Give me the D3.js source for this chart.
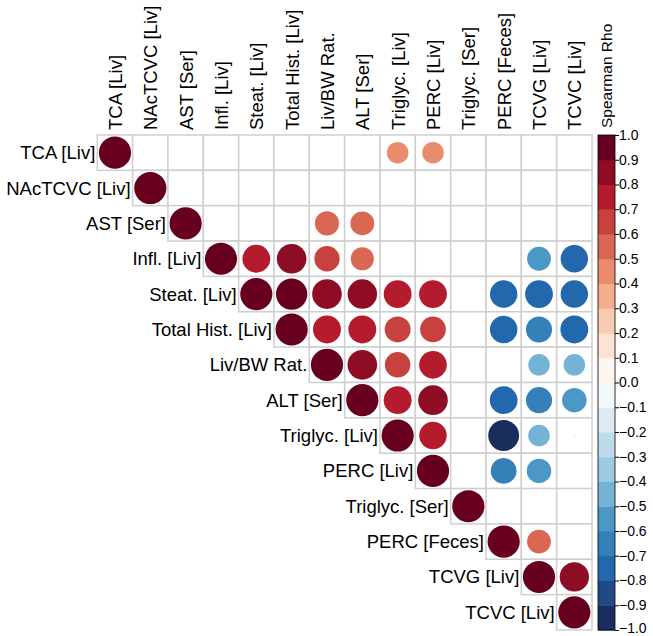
<!DOCTYPE html>
<html>
<head>
<meta charset="utf-8">
<script src="https://cdn.jsdelivr.net/npm/d3@7"></script>
<style>
  html, body { margin: 0; padding: 0; background: #fff; }
  svg { display: block; font-family: "Liberation Sans", Arial, sans-serif; }
</style>
</head>
<body>
<svg id="chart" width="653" height="636"></svg>
<script>
const labels = ["TCA [Liv]", "NAcTCVC [Liv]", "AST [Ser]", "Infl. [Liv]", "Steat. [Liv]",
  "Total Hist. [Liv]", "Liv/BW Rat.", "ALT [Ser]", "Triglyc. [Liv]", "PERC [Liv]",
  "Triglyc. [Ser]", "PERC [Feces]", "TCVG [Liv]", "TCVC [Liv]"];

// Upper triangle of Spearman rho (null = not shown)
const N = null;
const rho = [
  [1, N, N, N, N, N, N, N, 0.45, 0.45, N, N, N, N],
  [N, 1, N, N, N, N, N, N, N, N, N, N, N, N],
  [N, N, 1, N, N, N, 0.56, 0.55, N, N, N, N, N, N],
  [N, N, N, 1, 0.75, 0.85, 0.62, 0.52, N, N, N, N, -0.55, -0.73],
  [N, N, N, N, 1, 0.95, 0.85, 0.84, 0.75, 0.75, N, -0.73, -0.75, -0.73],
  [N, N, N, N, N, 1, 0.75, 0.75, 0.65, 0.64, N, -0.73, -0.66, -0.75],
  [N, N, N, N, N, N, 1, 0.85, 0.63, 0.74, N, N, -0.45, -0.45],
  [N, N, N, N, N, N, N, 1, 0.75, 0.85, N, -0.74, -0.66, -0.58],
  [N, N, N, N, N, N, N, N, 1, 0.73, N, -0.92, -0.45, 0.01],
  [N, N, N, N, N, N, N, N, N, 1, N, -0.64, -0.58, N],
  [N, N, N, N, N, N, N, N, N, N, 1, N, N, N],
  [N, N, N, N, N, N, N, N, N, N, N, 1, 0.55, N],
  [N, N, N, N, N, N, N, N, N, N, N, N, 1, 0.83],
  [N, N, N, N, N, N, N, N, N, N, N, N, N, 1]
];

const legendTicks = [1.0, 0.9, 0.8, 0.7, 0.6, 0.5, 0.4, 0.3, 0.2, 0.1, 0.0,
  -0.1, -0.2, -0.3, -0.4, -0.5, -0.6, -0.7, -0.8, -0.9, -1.0];
const rampColors = ["#1a2e5e", "#2166AC", "#4393C3", "#92C5DE", "#D1E5F0", "#FFFFFF",
  "#FDDBC7", "#F4A582", "#D6604D", "#B2182B", "#67001F"];
const legendTitle = "Spearman Rho";

const svg = d3.select("#chart");
const gridLeft = 97.3, gridTop = 135, gridRight = 592, gridBottom = 630;
const n = labels.length;

const x = d3.scaleBand().domain(d3.range(n)).range([gridLeft, gridRight]).paddingInner(0).paddingOuter(0);
const y = d3.scaleBand().domain(d3.range(n)).range([gridTop, gridBottom]).paddingInner(0).paddingOuter(0);
const cw = x.bandwidth();

// 20 discrete colours, like colorRampPalette(...)(20)
const ramp = d3.piecewise(d3.interpolateRgb, rampColors);
const nBins = 20;
const binColors = d3.range(nBins).map(i => ramp(i / (nBins - 1)));
const color = d3.scaleQuantize().domain([-1, 1]).range(binColors);
const rScale = d3.scaleSqrt().domain([0, 1]).range([0, cw * 0.455]);

// cells
const cells = [];
for (let i = 0; i < n; i++) for (let j = i; j < n; j++) cells.push({ i, j, v: rho[i][j] });

svg.append("g").selectAll("rect").data(cells).join("rect")
  .attr("x", d => x(d.j)).attr("y", d => y(d.i))
  .attr("width", cw).attr("height", cw)
  .attr("fill", "#fff").attr("stroke", "#cfcfcf").attr("stroke-width", 1.5);

svg.append("g").selectAll("circle").data(cells.filter(d => d.v !== null)).join("circle")
  .attr("cx", d => x(d.j) + cw / 2).attr("cy", d => y(d.i) + cw / 2)
  .attr("r", d => rScale(Math.abs(d.v)))
  .attr("fill", d => color(Math.min(d.v, 0.9999)));

// row labels
svg.append("g").selectAll("text").data(labels).join("text")
  .attr("x", (d, i) => x(i) - 2)
  .attr("y", (d, i) => y(i) + cw / 2)
  .attr("dy", "0.35em")
  .attr("text-anchor", "end")
  .attr("font-size", 18.5)
  .attr("fill", "#000")
  .text(d => d);

// column labels
svg.append("g").selectAll("text").data(labels).join("text")
  .attr("transform", (d, i) => `translate(${x(i) + cw / 2 + 7},${gridTop - 5}) rotate(-90)`)
  .attr("text-anchor", "start")
  .attr("font-size", 18.5)
  .attr("fill", "#000")
  .text(d => d);

// colour legend
const legX = 598, legW = 17;
const ly = d3.scaleLinear().domain([1, -1]).range([gridTop, gridBottom]);
const bins = d3.range(nBins).map(i => ({ lo: -1 + i * 0.1, hi: -1 + (i + 1) * 0.1, c: binColors[i] }));
svg.append("g").selectAll("rect").data(bins).join("rect")
  .attr("x", legX).attr("y", d => ly(d.hi))
  .attr("width", legW).attr("height", d => ly(d.lo) - ly(d.hi) + 0.5)
  .attr("fill", d => d.c);
svg.append("rect").attr("x", legX).attr("y", gridTop).attr("width", legW)
  .attr("height", gridBottom - gridTop).attr("fill", "none").attr("stroke", "#000").attr("stroke-width", 0.8);

const axis = d3.axisRight(ly).tickValues(legendTicks).tickFormat(d3.format(".1f")).tickSize(4).tickPadding(0);
const ag = svg.append("g").attr("transform", `translate(${legX + legW},0)`).call(axis);
ag.select(".domain").remove();
ag.selectAll("text").attr("font-size", 14).attr("fill", "#000")
  .attr("font-family", "'Liberation Sans', Arial, sans-serif")
  .attr("dy", d => d === -1 ? "0.2em" : "0.32em");
ag.selectAll("line").attr("stroke", "#000");

svg.append("text")
  .attr("transform", `translate(${legX + legW / 2 + 5.5},${gridTop - 7}) rotate(-90)`)
  .attr("text-anchor", "start")
  .attr("font-size", 15.5)
  .attr("fill", "#000")
  .text(legendTitle);
</script>
</body>
</html>
